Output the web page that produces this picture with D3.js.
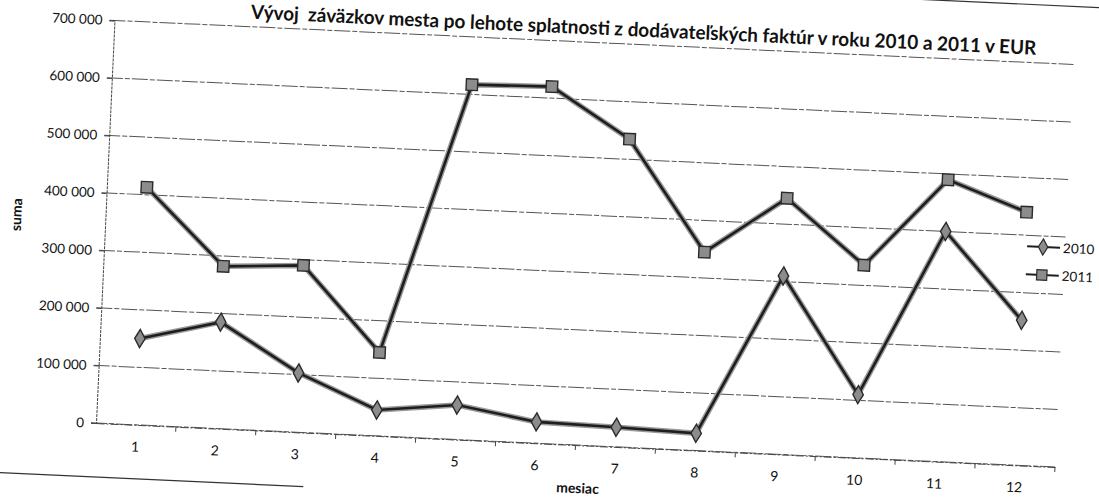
<!DOCTYPE html>
<html>
<head>
<meta charset="utf-8">
<script src="https://cdn.jsdelivr.net/npm/d3@7"></script>
<style>
  body { margin: 0; background: #fff; }
  svg { display: block; }
  text { font-family: Lato, "Open Sans", sans-serif; fill: #111; }
</style>
</head>
<body>
<svg id="chart" width="1099" height="497"></svg>
<script>
// data
const months = ["1", "2", "3", "4", "5", "6", "7", "8", "9", "10", "11", "12"];
const values2010 = [150000, 185000, 103000, 45000, 60000, 37000, 34000, 30000, 310000, 110000, 400000, 252000];
const values2011 = [413000, 282000, 290000, 145000, 617000, 620000, 535000, 345000, 445000, 335000, 490000, 440000];
const yTicks = [0, 100000, 200000, 300000, 400000, 500000, 600000, 700000];
const seriesNames = ["2010", "2011"];
const title = "Vývoj  záväzkov mesta po lehote splatnosti z dodávateľských faktúr v roku 2010 a 2011 v EUR";

// the scan is tilted a little, so the whole chart sits in a rotated group
const tilt = 2.63;
const origin = { x: 96, y: 423 };
const width = 960;
const height = 403;

const svg = d3.select('#chart');
const g = svg.append('g')
  .attr('transform', `rotate(${tilt} ${origin.x} ${origin.y}) translate(${origin.x}, ${origin.y - height})`);

const x = d3.scaleBand().domain(months).range([0, width]);
const y = d3.scaleLinear().domain([0, 700000]).range([height, 0]);

const fmt = d3.formatLocale({ thousands: "\u00a0", grouping: [3], decimal: ",", currency: ["", ""] }).format(",");

// pieces of the outer frame that survived the scan
g.append('line').attr('x1', -120).attr('x2', 210).attr('y1', height + 54).attr('y2', height + 54)
  .attr('stroke', '#333').attr('stroke-width', 1.2);
g.append('line').attr('x1', 780).attr('x2', 1120).attr('y1', -58).attr('y2', -58)
  .attr('stroke', '#333').attr('stroke-width', 1.2);

// gridlines
g.append('g').selectAll('line')
  .data(yTicks)
  .join('line')
  .attr('x1', -5)
  .attr('x2', width)
  .attr('y1', d => y(d))
  .attr('y2', d => y(d))
  .attr('stroke', '#555')
  .attr('stroke-width', 1)
  .attr('stroke-dasharray', '16 2 5 2');

// y axis
const yAxis = g.append('g')
  .call(d3.axisLeft(y).tickValues(yTicks).tickFormat(fmt).tickSize(5).tickPadding(7));
yAxis.select('.domain').attr('stroke', '#444').attr('stroke-dasharray', '3 1');
yAxis.selectAll('.tick line').attr('stroke', '#444');
yAxis.selectAll('.tick text').attr('font-size', 13.5).attr('font-family', '"Liberation Sans", Arial, sans-serif').attr('fill', '#111');

// x axis: labels at the band centres, ticks between the bands
const xAxis = g.append('g')
  .attr('transform', `translate(0, ${height})`)
  .call(d3.axisBottom(x).tickSize(0).tickPadding(17));
xAxis.select('.domain').attr('stroke', '#444').attr('stroke-dasharray', '8 2 2 2');
xAxis.selectAll('.tick text').attr('font-size', 14).attr('fill', '#111');

g.append('g').selectAll('line')
  .data(months.slice(1).concat(['end']))
  .join('line')
  .attr('x1', (d, i) => x.step() * (i + 1))
  .attr('x2', (d, i) => x.step() * (i + 1))
  .attr('y1', height)
  .attr('y2', height + 5)
  .attr('stroke', '#444');

// axis titles
g.append('text')
  .attr('x', width / 2 + 4)
  .attr('y', height + 48)
  .attr('text-anchor', 'middle')
  .attr('font-size', 14)
  .attr('font-weight', 'bold')
  .text('mesiac');

g.append('text')
  .attr('transform', `translate(-84, ${height / 2 - 3}) rotate(-90)`)
  .attr('text-anchor', 'middle')
  .attr('font-size', 14)
  .attr('font-weight', 'bold')
  .text('suma');

// title
g.append('text')
  .attr('x', 529)
  .attr('y', -8)
  .attr('text-anchor', 'middle')
  .attr('font-size', 19.5)
  .attr('font-weight', 'bold')
  .attr('textLength', 786)
  .attr('lengthAdjust', 'spacingAndGlyphs')
  .style('white-space', 'pre')
  .text(title);

// series
const series = [
  { name: seriesNames[0], values: values2010, symbol: d3.symbolDiamond, size: 95 },
  { name: seriesNames[1], values: values2011, symbol: d3.symbolSquare, size: 130 }
];

const line = d3.line()
  .x((d, i) => x(months[i]) + x.bandwidth() / 2)
  .y(d => y(d));

series.forEach(s => {
  const sg = g.append('g');
  sg.append('path')
    .attr('d', line(s.values))
    .attr('fill', 'none')
    .attr('stroke', '#9a9a9a')
    .attr('stroke-width', 5.5);
  sg.append('path')
    .attr('d', line(s.values))
    .attr('fill', 'none')
    .attr('stroke', '#1e1e1e')
    .attr('stroke-width', 2.6);
  sg.selectAll('path.mark')
    .data(s.values)
    .join('path')
    .attr('class', 'mark')
    .attr('transform', (d, i) => `translate(${x(months[i]) + x.bandwidth() / 2}, ${y(d)})`)
    .attr('d', d3.symbol().type(s.symbol).size(s.size))
    .attr('fill', '#8c8c8c')
    .attr('stroke', '#2a2a2a')
    .attr('stroke-width', 1.4);
});

// legend
const legend = g.append('g')
  .selectAll('g')
  .data(series)
  .join('g')
  .attr('transform', (d, i) => `translate(922, ${y(400000) + 11 + i * 28})`);

legend.append('line')
  .attr('x1', 0).attr('x2', 33)
  .attr('stroke', '#1e1e1e').attr('stroke-width', 2);
legend.append('path')
  .attr('transform', 'translate(16, 0)')
  .attr('d', d => d3.symbol().type(d.symbol).size(d.size * 0.8)())
  .attr('fill', '#8c8c8c')
  .attr('stroke', '#2a2a2a')
  .attr('stroke-width', 1.2);
legend.append('text')
  .attr('x', 36)
  .attr('y', 5)
  .attr('font-size', 13.5)
  .text(d => d.name);
</script>
</body>
</html>
